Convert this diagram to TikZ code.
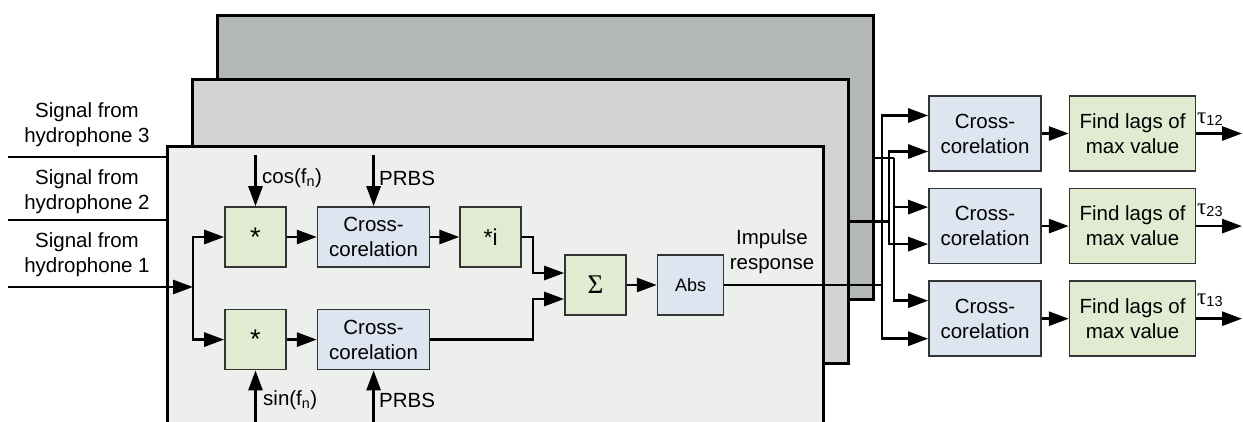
\documentclass[tikz,border=0pt]{standalone}
\usepackage{fontspec}
\setmainfont{Liberation Sans}
\newfontfamily\serifsym{Liberation Serif}
\usetikzlibrary{arrows.meta,positioning}
\definecolor{pnlback}{HTML}{B3B7B7}
\definecolor{pnlmid}{HTML}{D1D4D2}
\definecolor{pnlfront}{HTML}{EDEFED}
\definecolor{boxgreen}{HTML}{E1EBD1}
\definecolor{boxblue}{HTML}{DDE5F0}
\newcommand\delay[1]{{\serifsym\fontsize{23}{23}\selectfont τ}\raisebox{-2pt}{\fontsize{14.5}{14.5}\selectfont #1}}

\begin{document}
\begin{tikzpicture}[x=1pt, y=-1pt,
      font=\fontsize{20.5}{25}\selectfont,
      pnl/.style={draw, line width=3pt, minimum width=656pt,
                  minimum height=284pt, inner sep=0pt},
      grn/.style={draw=black!80, line width=1.6pt, fill=boxgreen,
                  minimum width=61pt, minimum height=60pt,
                  align=center, inner sep=2pt},
      blu/.style={draw=black!80, line width=1.6pt, fill=boxblue,
                  minimum width=112pt, minimum height=60pt,
                  align=center, inner sep=2pt},
      lbl/.style={align=center, inner sep=0pt},
      tau/.style={lbl, anchor=west},
      wire/.style={line width=2.8pt},
      arr/.style={-{Triangle[length=20pt,width=14pt]}, line width=2.8pt}
  ]
    \useasboundingbox (0,0) rectangle (1243,422);
    % one panel per hydrophone channel
    \node[pnl, fill=pnlback]  (back)  at (545,158)   {};
    \node[pnl, fill=pnlmid]   (mid)   at (520,221.5) {};
    \node[pnl, fill=pnlfront] (front) at (495,289)   {};

    % inputs
    \node[lbl] (h3) at (87,125) {Signal from\\hydrophone 3};
    \node[lbl] (h2) at (87,192) {Signal from\\hydrophone 2};
    \node[lbl] (h1) at (87,255) {Signal from\\hydrophone 1};
    \coordinate (in3) at (8,157);
    \coordinate (in2) at (8,220);
    \coordinate (in1) at (8,287);
    \coordinate (split) at (193,287);
    \draw[wire] (in3) -- (in3 -| front.west);
    \draw[wire] (in2) -- (in2 -| front.west);
    \draw[arr] (in1) -- (split);

    % front channel
    \node[grn, font=\fontsize{27}{27}\selectfont] (mulA) at (255.5,237) {*};
    \node[blu, right=30pt of mulA] (xcA) {Cross-\\corelation};
    \node[grn, right=29pt of xcA, font=\fontsize{23}{23}\selectfont] (muli) {*i};
    \node[grn, font=\fontsize{27}{27}\selectfont, below=41pt of mulA] (mulB) {*};
    \node[blu, right=30pt of mulB] (xcB) {Cross-\\corelation};
    \node[grn, font=\serifsym\fontsize{27}{27}\selectfont] (sum) at (595.5,285) {Σ};
    \node[blu, minimum width=66pt, right=30pt of sum,
          font=\fontsize{18}{20}\selectfont] (abs) {Abs};
    \node[lbl] (imp) at (772,252) {Impulse\\response};

    \coordinate (cosin) at (mulA.north |- 0,155);
    \coordinate (prbsA) at (xcA.north |- 0,155);
    \coordinate (sinin) at (mulB.south |- 0,422);
    \coordinate (prbsB) at (xcB.south |- 0,422);
    \draw[arr] (cosin) -- (mulA);
    \draw[arr] (prbsA) -- (xcA);
    \draw[arr] (sinin) -- (mulB);
    \draw[arr] (prbsB) -- (xcB);
    \node[lbl, anchor=west] (coslbl)   at (262,178) {cos(f\textsubscript{n})};
    \node[lbl, anchor=west] (prbsAlbl) at (379,178) {PRBS};
    \node[lbl, anchor=west] (sinlbl)   at (263,400) {sin(f\textsubscript{n})};
    \node[lbl, anchor=west] (prbsBlbl) at (379,400) {PRBS};

    \coordinate (mx) at (533,0);
    \draw[arr] (split) |- (mulA);
    \draw[arr] (split) |- (mulB);
    \draw[arr] (mulA) -- (xcA);
    \draw[arr] (mulB) -- (xcB);
    \draw[arr] (xcA) -- (muli);
    \draw[arr] (muli.east) -- (muli.east -| mx) |- ([yshift=12pt]sum.west);
    \draw[arr] (xcB.east) -- (xcB.east -| mx) |- ([yshift=-14pt]sum.west);
    \draw[arr] (sum) -- (abs);

    % pairwise delays
    \node[blu, minimum height=75pt] (xc1) at (985,133.5) {Cross-\\corelation};
    \node[blu, minimum height=75pt, below=16pt of xc1] (xc2) {Cross-\\corelation};
    \node[blu, minimum height=75pt, below=16pt of xc2] (xc3) {Cross-\\corelation};
    \node[grn, minimum width=126pt, minimum height=75pt, right=27pt of xc1] (lag1) {Find lags of\\max value};
    \node[grn, minimum width=126pt, minimum height=75pt, right=27pt of xc2] (lag2) {Find lags of\\max value};
    \node[grn, minimum width=126pt, minimum height=75pt, right=27pt of xc3] (lag3) {Find lags of\\max value};
    \draw[arr] (xc1) -- (lag1);
    \draw[arr] (xc2) -- (lag2);
    \draw[arr] (xc3) -- (lag3);

    \coordinate (out) at (1242,0);
    \draw[arr] (lag1.east) -- (lag1.east -| out);
    \draw[arr] (lag2.east) -- (lag2.east -| out);
    \draw[arr] (lag3.east) -- (lag3.east -| out);
    \node[tau] (t12) at (1197,119) {\delay{12}};
    \node[tau] (t23) at (1197,210) {\delay{23}};
    \node[tau] (t13) at (1197,300) {\delay{13}};

    % buses to the correlators
    \coordinate (busF) at (882,0);
    \coordinate (busM) at (889,0);
    \coordinate (busB) at (894,0);
    \draw[wire] (abs.east) -- (abs.east -| busF);
    \draw[arr] (abs.east -| busF) |- ([yshift=18pt]xc1.west);
    \draw[arr] (abs.east -| busF) |- ([yshift=-20pt]xc3.west);
    \draw[wire] (mid.east) -- (mid.east -| busM);
    \draw[arr] (mid.east -| busM) |- ([yshift=-18pt]xc1.west);
    \draw[arr] (mid.east -| busM) |- ([yshift=-18pt]xc2.west);
    \draw[wire] (back.east) -- (back.east -| busB);
    \draw[arr] (back.east -| busB) |- ([yshift=19pt]xc2.west);
    \draw[arr] (back.east -| busB) |- ([yshift=18pt]xc3.west);
\end{tikzpicture}
\end{document}
